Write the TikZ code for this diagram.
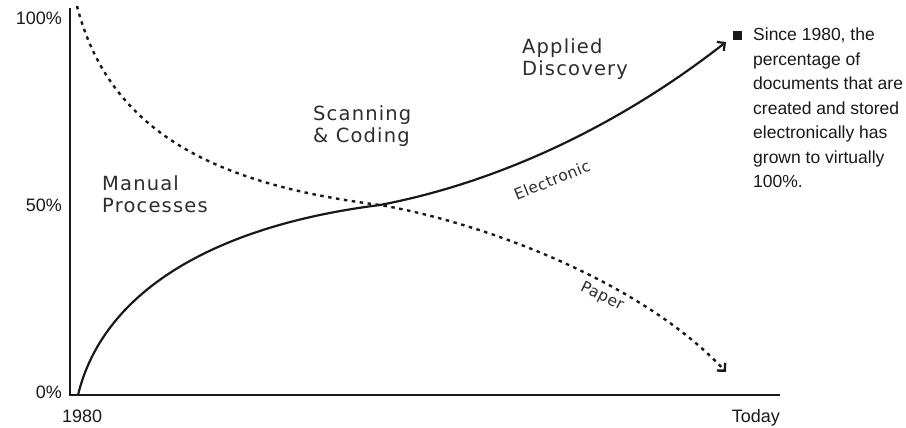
\documentclass[tikz,border=0pt]{standalone}
\usepackage{fontspec}
\setmainfont{Liberation Sans}
\newfontfamily\widefont{DejaVu Sans}
\usetikzlibrary{arrows.meta}
\definecolor{CurveClr}{RGB}{25,25,25}
\definecolor{LabelClr}{RGB}{45,45,45}

\tikzset{
  axisline/.style={line width=2pt,color=CurveClr},
  electronic/.style={line width=2.2pt,color=CurveClr,-{Straight Barb[angle=90:8pt]}},
  paper/.style={line width=2.4pt,color=CurveClr,dash pattern=on 3.5pt off 4.5pt,-{Straight Barb[angle=90:8pt]}},
  phase/.style={inner sep=0pt,anchor=north west,align=left,text=LabelClr,
    font=\widefont\fontsize{19.5}{22}\selectfont\addfontfeature{LetterSpace=6}},
  tick/.style={inner sep=0pt,text=CurveClr,font=\fontsize{18}{20}\selectfont},
  curvename/.style={inner sep=0pt,text=LabelClr,font=\widefont\fontsize{15.5}{18}\selectfont\addfontfeature{LetterSpace=3}},
  note/.style={inner sep=0pt,anchor=north west,align=left,text=CurveClr,font=\fontsize{17.5}{24.5}\selectfont}
}

\begin{document}
\begin{tikzpicture}[x=1pt,y=-1pt]
\useasboundingbox (0,0) rectangle (906,428);

\coordinate (ytop) at (70,8);
\coordinate (O) at (70,395);
\coordinate (xend) at (780,395);
\coordinate (estart) at (78,395);
\coordinate (pstart) at (77,6);
\coordinate (X) at (380,205);
\coordinate (eend) at (726,42);
\coordinate (pend) at (726,372);

\draw[axisline] (ytop) -- (O) -- (xend);

\draw[electronic] (estart) .. controls (104,288) and (220,225) .. (X)
  .. controls (500,182) and (620,125) .. (eend);
\draw[paper] (pstart) .. controls (110,135) and (220,185) .. (X)
  .. controls (480,222) and (640,280) .. (pend);

\node[tick,anchor=base east] (p100) at (62,25) {100\%};
\node[tick,anchor=base east] (p50) at (62,211) {50\%};
\node[tick,anchor=base east] (p0) at (62,398) {0\%};
\node[tick,anchor=base west] (start) at (62,422) {1980};
\node[tick,anchor=base east] (today) at (780,422) {Today};

\node[phase] (manual) at (102,175) {Manual\\Processes};
\node[phase] (scan) at (313,105) {Scanning\\\& Coding};
\node[phase] (applied) at (522,38) {Applied\\Discovery};

\node[curvename,rotate=22] (elabel) at (552,180) {Electronic};
\node[curvename,rotate=-26] (plabel) at (602,297) {Paper};

\node[fill=CurveClr,minimum size=9pt,inner sep=0pt] (bullet) at (737,36) {};
\node[note] (since) at (753,28) {Since 1980, the\\percentage of\\documents that are\\created and stored\\electronically has\\grown to virtually\\100\%.};

\end{tikzpicture}
\end{document}
